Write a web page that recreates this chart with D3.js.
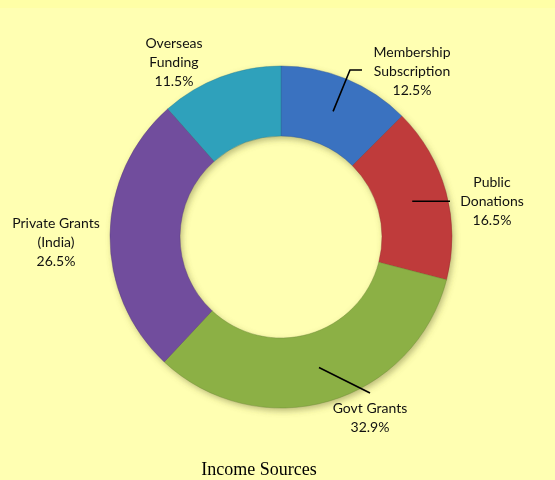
<!DOCTYPE html>
<html><head><meta charset="utf-8">
<script src="https://cdn.jsdelivr.net/npm/d3@7"></script>
<style>
html,body{margin:0;padding:0;background:#FFFFB2;}
svg{display:block;}
</style></head>
<body>
<script>
const categories = ["Membership Subscription","Public Donations","Govt Grants","Private Grants (India)","Overseas Funding"];
const values = [12.5, 16.5, 32.9, 26.5, 11.5];
const labelLines = [["Membership","Subscription","12.5%"],["Public","Donations","16.5%"],["Govt Grants","32.9%"],["Private Grants","(India)","26.5%"],["Overseas","Funding","11.5%"]];
const colors = ["#4384DE","#DC4444","#A2CB50","#8259B5","#36BAD8"];
const title = "Income Sources";

const W=555,H=480, cx=281, cy=237, rOut=171, rIn=101;
const svg=d3.select("body").append("svg").attr("width",W).attr("height",H);
svg.append("rect").attr("width",W).attr("height",H).attr("fill","#FFFFB2");
svg.append("rect").attr("width",W).attr("height",8).attr("fill","#FFFFA6");

const defs=svg.append("defs");
const f=defs.append("filter").attr("id","blur").attr("x","-20%").attr("y","-20%").attr("width","140%").attr("height","140%");
f.append("feGaussianBlur").attr("stdDeviation",3);

colors.forEach((c,i)=>{
  const g=defs.append("radialGradient").attr("id","g"+i).attr("gradientUnits","userSpaceOnUse")
    .attr("cx",cx).attr("cy",cy).attr("r",rOut);
  const base=d3.color(c);
  const fr=rIn/rOut;
  [[fr, base.darker(0.5)],[fr+0.025, base.brighter(0.3)],[fr+0.06, base],[0.9, base],[0.955, base.brighter(0.2)],[1, base.darker(0.4)]]
   .forEach(([o,col])=>g.append("stop").attr("offset",o).attr("stop-color",col.formatHex()));
});

const pie=d3.pie().sort(null).value(d=>d);
const arcs=pie(values);
const arc=d3.arc().innerRadius(rIn).outerRadius(rOut);
// shadow
svg.append("g").attr("transform",`translate(${cx+2},${cy+3})`).attr("filter","url(#blur)")
  .selectAll("path").data(arcs).join("path").attr("d",arc).attr("fill","#6b6b30").attr("opacity",0.45);
const gp=svg.append("g").attr("transform",`translate(${cx},${cy})`);
gp.selectAll("path").data(arcs).join("path").attr("d",arc)
  .attr("fill",(d,i)=>`url(#g${i})`).attr("stroke",(d,i)=>d3.color(colors[i]).darker(1.2)).attr("stroke-width",0.8).attr("stroke-opacity",0.5);

// label positions (centre x, first baseline)
const labelPos=[[412,57],[492,187],[370,413],[56,228],[174,48]];
const lh=19;
const fontFam="Lato, 'Open Sans', sans-serif";
labelLines.forEach((lines,i)=>{
  const t=svg.append("text").attr("text-anchor","middle").attr("font-family",fontFam).attr("font-size",14).attr("fill","#111");
  lines.forEach((s,j)=>t.append("tspan").attr("x",labelPos[i][0]).attr("y",labelPos[i][1]+j*lh).text(s));
});

// leader lines from slice centroids
const cen=arcs.map(d=>{const p=arc.centroid(d);return [p[0]+cx,p[1]+cy];});
const leaders=[
  [cen[0],[350,70],[362,70]],
  [cen[1],[450,cen[1][1]]],
  [cen[2],[370,393]]
];
leaders.forEach(pts=>svg.append("path").attr("d",d3.line()(pts)).attr("fill","none").attr("stroke","#000").attr("stroke-width",1.6));

svg.append("text").attr("x",259).attr("y",475).attr("text-anchor","middle")
  .attr("font-family","'Liberation Serif','Times New Roman',serif").attr("font-size",18).attr("fill","#000").text(title);
</script>
</body></html>
